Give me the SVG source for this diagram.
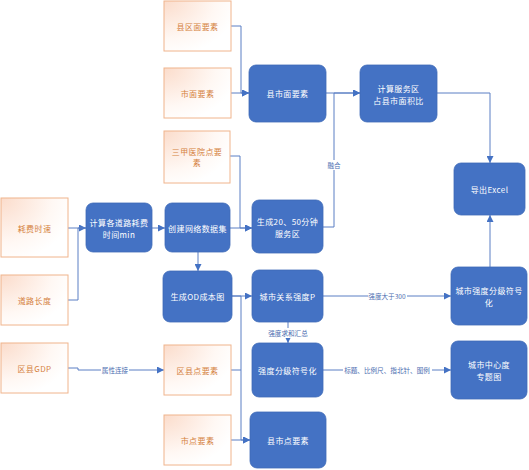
<svg xmlns="http://www.w3.org/2000/svg" width="529" height="470" viewBox="0 0 529 470">
<style>
.o rect{fill:url(#og);stroke:#F0B48C;stroke-width:1}
.o text{fill:#D5823F;font-family:"Noto Sans CJK SC","Noto Sans",sans-serif;font-size:8px;text-anchor:middle;dominant-baseline:central;letter-spacing:0.4px}
.b rect{fill:#4472C4;stroke:#3F6BB8;stroke-width:0.8}
.b text{fill:#FFFFFF;font-family:"Noto Sans CJK SC","Noto Sans",sans-serif;font-size:8px;text-anchor:middle;dominant-baseline:central;letter-spacing:0.4px}
.c path{fill:none;stroke:#5B7EC4;stroke-width:1}
.c .a{marker-end:url(#ah)}
.lb rect{fill:#FFFFFF}
.lb text{fill:#4A6DB0;font-family:"Noto Sans CJK SC","Noto Sans",sans-serif;font-size:6.6px;text-anchor:middle;dominant-baseline:central}
</style>
<defs>
<radialGradient id="og" cx="0" cy="0" r="1.1">
<stop offset="0" stop-color="#FBDCCB"/>
<stop offset="0.7" stop-color="#FFF8F4"/>
<stop offset="1" stop-color="#FFFFFF"/>
</radialGradient>
<marker id="ah" viewBox="0 0 10 10" refX="10" refY="5" markerWidth="7" markerHeight="7" markerUnits="userSpaceOnUse" orient="auto">
<path d="M0,0 L10,5 L0,10 Z" fill="#4472C4"/>
</marker>
</defs>
<rect width="529" height="470" fill="#FFFFFF"/>
<g class="c" id="connectors">
<path d="M231,26 H241 V93 H249" class="a"/>
<path d="M231,93 H249" class="a"/>
<path d="M230,156 H240 V228 H252" class="a"/>
<path d="M68,228 H86" class="a"/>
<path d="M68,300 H78 V228 H86"/>
<path d="M152,228 H165" class="a"/>
<path d="M230,228 H252" class="a"/>
<path d="M198,252 V271" class="a"/>
<path d="M323,227 H334 V93 H360" class="a"/>
<path d="M326,93 H360" class="a"/>
<path d="M437,93 H490 V163" class="a"/>
<path d="M490,267 V215" class="a"/>
<path d="M232,296 H252" class="a"/>
<path d="M232,296 H241 V440 H250" class="a"/>
<path d="M231,370 H241"/>
<path d="M231,440 H250" class="a"/>
<path d="M68,368 H78 V370 H164" class="a"/>
<path d="M288,322 V343" class="a"/>
<path d="M323,296 H451" class="a"/>
<path d="M323,370 H451" class="a"/>
<g class="lb">
<rect x="327" y="160" width="14" height="10"/><text x="334" y="165">融合</text>
<rect x="101" y="365" width="28" height="10"/><text x="115" y="370">属性连接</text>
<rect x="266" y="328" width="44" height="10"/><text x="288" y="333">强度求和汇总</text>
<rect x="368" y="291" width="39" height="10"/><text x="387" y="296">强度大于300</text>
<rect x="343" y="365" width="89" height="10"/><text x="387" y="370">标题、比例尺、指北针、图例</text>
</g>
</g>
<g id="n1" class="o"><rect x="164" y="1" width="67" height="50"/><text x="197.5" y="26">县区面要素</text></g>
<g id="n2" class="o"><rect x="164" y="68" width="67" height="50"/><text x="197.5" y="93">市面要素</text></g>
<g id="n3" class="o"><rect x="164" y="131" width="66" height="52"/><text x="197" y="151">三甲医院点要</text><text x="197" y="162">素</text></g>
<g id="n4" class="o"><rect x="1" y="198" width="67" height="59"/><text x="34.5" y="228">耗费时速</text></g>
<g id="n5" class="o"><rect x="1" y="275" width="67" height="50"/><text x="34.5" y="300">道路长度</text></g>
<g id="n6" class="o"><rect x="1" y="343" width="67" height="50"/><text x="34.5" y="368">区县GDP</text></g>
<g id="n7" class="o"><rect x="164" y="345" width="67" height="50"/><text x="197.5" y="370">区县点要素</text></g>
<g id="n8" class="o"><rect x="164" y="415" width="67" height="50"/><text x="197.5" y="440">市点要素</text></g>
<g id="b1" class="b"><rect x="86" y="203" width="66" height="49" rx="7"/><text x="119" y="222">计算各道路耗费</text><text x="119" y="234">时间min</text></g>
<g id="b2" class="b"><rect x="165" y="203" width="65" height="49" rx="7"/><text x="197.5" y="228">创建网络数据集</text></g>
<g id="b3" class="b"><rect x="252" y="200" width="71" height="53" rx="7"/><text x="287.5" y="221">生成20、50分钟</text><text x="287.5" y="233">服务区</text></g>
<g id="b4" class="b"><rect x="163" y="271" width="69" height="51" rx="7"/><text x="197.5" y="296">生成OD成本图</text></g>
<g id="b5" class="b"><rect x="249" y="65" width="77" height="57" rx="7"/><text x="287.5" y="93">县市面要素</text></g>
<g id="b6" class="b"><rect x="360" y="65" width="77" height="57" rx="7"/><text x="398.5" y="88">计算服务区</text><text x="398.5" y="100">占县市面积比</text></g>
<g id="b7" class="b"><rect x="454" y="163" width="71" height="52" rx="7"/><text x="489.5" y="189">导出Excel</text></g>
<g id="b8" class="b"><rect x="252" y="270" width="71" height="52" rx="7"/><text x="287.5" y="296">城市关系强度P</text></g>
<g id="b9" class="b"><rect x="252" y="343" width="71" height="54" rx="7"/><text x="287.5" y="370">强度分级符号化</text></g>
<g id="b10" class="b"><rect x="250" y="412" width="76" height="56" rx="7"/><text x="288" y="440">县市点要素</text></g>
<g id="b11" class="b"><rect x="451" y="267" width="76" height="58" rx="7"/><text x="489" y="290">城市强度分级符号</text><text x="489" y="302">化</text></g>
<g id="b12" class="b"><rect x="451" y="341" width="76" height="58" rx="7"/><text x="489" y="364">城市中心度</text><text x="489" y="376">专题图</text></g>
</svg>
